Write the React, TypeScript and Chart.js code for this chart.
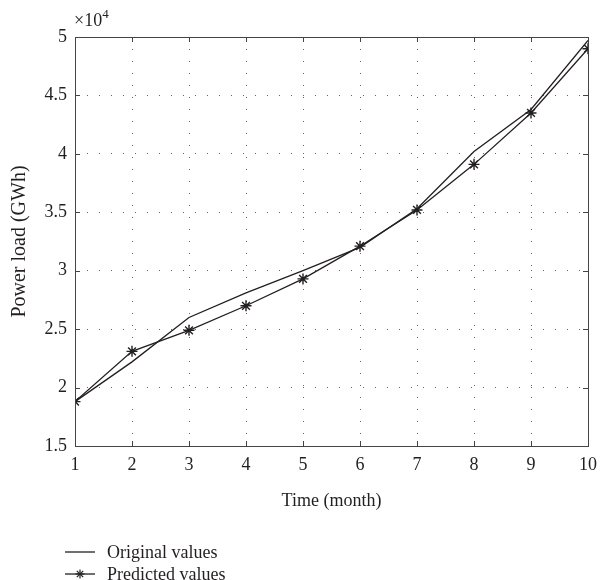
import React, { useEffect, useRef } from "react";
import { Chart, registerables } from "chart.js";

Chart.register(...registerables);

const months = [1, 2, 3, 4, 5, 6, 7, 8, 9, 10];
const originalValues = [18800, 22200, 26000, 28100, 30000, 32000, 35300, 40200, 43800, 49700];
const predictedValues = [18800, 23100, 24900, 27000, 29300, 32100, 35200, 39100, 43500, 49000];
const yMin = 15000;
const yMax = 50000;
const yStep = 5000;
const seriesNames = ["Original values", "Predicted values"];

const FONT = "'Liberation Serif', 'Times New Roman', serif";
const INK = "#231f20";

const boxPlugin = {
  id: "matlabBox",
  afterDraw(chart: any) {
    const { ctx, chartArea } = chart;
    const { left, right, top, bottom } = chartArea;
    ctx.save();
    ctx.strokeStyle = "#444";
    ctx.lineWidth = 1;
    ctx.strokeRect(left + 0.5, top + 0.5, right - left, bottom - top);
    const xs = chart.scales.x;
    const ys = chart.scales.y;
    const tl = 5;
    ctx.beginPath();
    xs.ticks.forEach((t: any) => {
      const px = Math.round(xs.getPixelForValue(t.value)) + 0.5;
      ctx.moveTo(px, bottom);
      ctx.lineTo(px, bottom - tl);
      ctx.moveTo(px, top);
      ctx.lineTo(px, top + tl);
    });
    ys.ticks.forEach((t: any) => {
      const py = Math.round(ys.getPixelForValue(t.value)) + 0.5;
      ctx.moveTo(left, py);
      ctx.lineTo(left + tl, py);
      ctx.moveTo(right, py);
      ctx.lineTo(right - tl, py);
    });
    ctx.stroke();
    // exponent label
    ctx.fillStyle = INK;
    ctx.textBaseline = "alphabetic";
    ctx.textAlign = "left";
    ctx.font = `18px ${FONT}`;
    ctx.fillText("×10", left - 1, top - 11);
    const w = ctx.measureText("×10").width;
    ctx.font = `13px ${FONT}`;
    ctx.fillText("4", left - 1 + w, top - 19);
    ctx.restore();
  },
};

function LegendIcon({ star }: { star: boolean }) {
  return (
    <svg width="32" height="12" style={{ display: "block" }}>
      <line x1="1" y1="6" x2="31" y2="6" stroke={INK} strokeWidth="1.3" />
      {star && (
        <g stroke={INK} strokeWidth="1.2">
          <line x1="16" y1="1.5" x2="16" y2="10.5" />
          <line x1="11.5" y1="6" x2="20.5" y2="6" />
          <line x1="12.8" y1="2.8" x2="19.2" y2="9.2" />
          <line x1="12.8" y1="9.2" x2="19.2" y2="2.8" />
        </g>
      )}
    </svg>
  );
}

export default function App() {
  const ref = useRef<HTMLCanvasElement | null>(null);
  useEffect(() => {
    document.body.style.margin = "0";
    const canvas = ref.current;
    if (!canvas) return;
    const chart = new Chart(canvas, {
      type: "line",
      data: {
        datasets: [
          {
            label: seriesNames[0],
            data: months.map((m, i) => ({ x: m, y: originalValues[i] })),
            borderColor: INK,
            borderWidth: 1.3,
            pointRadius: 0,
            fill: false,
            tension: 0,
          },
          {
            label: seriesNames[1],
            data: months.map((m, i) => ({ x: m, y: predictedValues[i] })),
            borderColor: INK,
            borderWidth: 1.3,
            pointStyle: "star",
            pointRadius: 5.5,
            pointBorderColor: INK,
            pointBackgroundColor: INK,
            pointBorderWidth: 1.4,
            fill: false,
            tension: 0,
          },
        ],
      },
      options: {
        animation: false,
        responsive: false,
        maintainAspectRatio: false,
        layout: { padding: { left: 0, right: 10, top: 37, bottom: 64 } },
        plugins: { legend: { display: false }, tooltip: { enabled: false } },
        scales: {
          x: {
            type: "linear",
            min: 1,
            max: 10,
            afterFit: (s: any) => {
              s.height = 70;
            },
            ticks: {
              stepSize: 1,
              color: INK,
              font: { family: FONT, size: 18 },
              padding: 8,
            },
            grid: { color: "#666", lineWidth: 1, drawTicks: false },
            border: { display: false, dash: [1, 11] },
            title: {
              display: true,
              text: "Time (month)",
              color: INK,
              font: { family: FONT, size: 18 },
              padding: { top: 7 },
            },
          },
          y: {
            type: "linear",
            min: yMin,
            max: yMax,
            afterFit: (s: any) => {
              s.width = 75;
            },
            ticks: {
              stepSize: yStep,
              color: INK,
              font: { family: FONT, size: 18 },
              padding: 8,
              callback: (v: any) => String(Number(v) / 10000),
            },
            grid: { color: "#666", lineWidth: 1, drawTicks: false },
            border: { display: false, dash: [1, 11] },
            title: {
              display: true,
              text: "Power load (GWh)",
              color: INK,
              font: { family: FONT, size: 20 },
              padding: { top: 8, bottom: 4 },
            },
          },
        },
      },
      plugins: [boxPlugin],
    });
    return () => chart.destroy();
  }, []);

  return (
    <div style={{ position: "relative", width: 605, height: 580, background: "#fff" }}>
      <canvas ref={ref} width={605} height={580} style={{ display: "block" }} />
      {seriesNames.map((name, i) => (
        <div
          key={name}
          style={{
            position: "absolute",
            left: 64,
            top: 541 + i * 22,
            height: 22,
            display: "flex",
            alignItems: "center",
            fontFamily: FONT,
            fontSize: 18,
            color: INK,
          }}
        >
          <LegendIcon star={i === 1} />
          <span style={{ marginLeft: 11 }}>{name}</span>
        </div>
      ))}
    </div>
  );
}
